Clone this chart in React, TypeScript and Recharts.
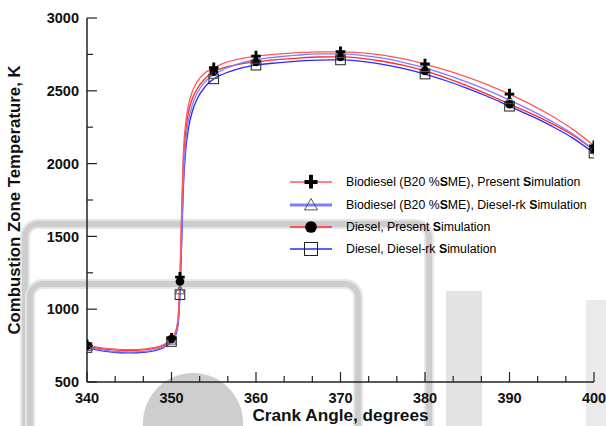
import React from 'react';
import { ComposedChart, Line, XAxis, YAxis, Legend } from 'recharts';

// ---------- data ----------
const angles = [340, 341, 342, 343, 344, 345, 346, 347, 348, 349, 350, 350.5, 350.8, 351, 351.2, 351.4, 351.7, 352, 352.5, 353, 354, 355, 356, 358, 360, 362.5, 365, 367.5, 370, 372.5, 375, 377.5, 380, 382.5, 385, 387.5, 390, 392.5, 395, 397.5, 400];

const b20Present = [755, 742, 733, 727, 723, 722, 723, 727, 737, 755, 800, 850, 960, 1220, 1680, 2060, 2290, 2400, 2500, 2560, 2625, 2658, 2685, 2718, 2738, 2752, 2762, 2768, 2768, 2761, 2745, 2719, 2684, 2642, 2594, 2539, 2477, 2407, 2327, 2235, 2122];
const b20DieselRk = [742, 728, 718, 711, 707, 706, 707, 711, 721, 740, 785, 830, 920, 1130, 1500, 1880, 2150, 2290, 2410, 2480, 2565, 2610, 2642, 2686, 2715, 2732, 2745, 2753, 2754, 2744, 2724, 2694, 2657, 2611, 2559, 2501, 2436, 2367, 2290, 2203, 2094];
const dieselPresent = [750, 737, 728, 722, 718, 717, 718, 722, 732, 750, 795, 840, 945, 1190, 1620, 2000, 2230, 2350, 2450, 2510, 2585, 2632, 2655, 2682, 2699, 2714, 2725, 2732, 2733, 2723, 2703, 2674, 2636, 2588, 2534, 2474, 2408, 2345, 2275, 2195, 2092];
const dieselDieselRk = [737, 722, 712, 705, 701, 700, 701, 705, 715, 734, 778, 822, 905, 1100, 1450, 1830, 2100, 2240, 2365, 2440, 2530, 2582, 2612, 2652, 2676, 2692, 2704, 2711, 2712, 2702, 2682, 2653, 2615, 2569, 2517, 2459, 2394, 2329, 2257, 2175, 2072];

const markerAngles = [340, 350, 351, 355, 360, 370, 380, 390, 400];

const xMajorTicks = [340, 350, 360, 370, 380, 390, 400];
const yTicks = [500, 750, 1000, 1250, 1500, 1750, 2000, 2250, 2500, 2750, 3000];

const seriesNames = [
  'Biodiesel (B20 %SME), Present Simulation',
  'Biodiesel (B20 %SME), Diesel-rk Simulation',
  'Diesel, Present Simulation',
  'Diesel, Diesel-rk Simulation',
];

// ---------- derived ----------
const data = angles.map((a, i) => ({
  angle: a,
  s1: b20Present[i],
  s2: b20DieselRk[i],
  s3: dieselPresent[i],
  s4: dieselDieselRk[i],
}));

const xTicks: number[] = [];
xMajorTicks.forEach((t, i) => {
  xTicks.push(t);
  if (i < xMajorTicks.length - 1) {
    xTicks.push(t + 10 / 3);
    xTicks.push(t + 20 / 3);
  }
});

const FONT = '"Liberation Sans", Arial, Helvetica, sans-serif';
const AXIS_COLOR = '#222';

type MarkerKind = 'plus' | 'triangle' | 'circle' | 'square';

const series: { key: string; name: string; color: string; width: number; legendWidth: number; marker: MarkerKind }[] = [
  { key: 's1', name: seriesNames[0], color: '#ff5a5a', width: 1.3, legendWidth: 1.3, marker: 'plus' },
  { key: 's2', name: seriesNames[1], color: '#7d7dff', width: 1.3, legendWidth: 3, marker: 'triangle' },
  { key: 's3', name: seriesNames[2], color: '#ff2a2a', width: 1.3, legendWidth: 1.5, marker: 'circle' },
  { key: 's4', name: seriesNames[3], color: '#2a2aff', width: 1.3, legendWidth: 1.3, marker: 'square' },
];

function Marker({ kind, cx, cy, s }: { kind: MarkerKind; cx: number; cy: number; s: number }) {
  if (kind === 'plus') {
    return (
      <path
        d={`M${cx - s},${cy}H${cx + s}M${cx},${cy - s * 1.1}V${cy + s}`}
        stroke="#000"
        strokeWidth={s * 0.6}
        fill="none"
      />
    );
  }
  if (kind === 'triangle') {
    return (
      <polygon
        points={`${cx},${cy - s} ${cx - s},${cy + s * 0.75} ${cx + s},${cy + s * 0.75}`}
        fill="none"
        stroke="#555"
        strokeWidth={1}
      />
    );
  }
  if (kind === 'circle') {
    return <circle cx={cx} cy={cy} r={s * 0.9} fill="#000" />;
  }
  return (
    <rect x={cx - s} y={cy - s} width={s * 2} height={s * 2} fill="none" stroke="#222" strokeWidth={1} />
  );
}

const makeDot = (kind: MarkerKind) => (props: any) => {
  const { cx, cy, payload, index } = props;
  if (!payload || !markerAngles.includes(payload.angle) || cx == null || cy == null) {
    return <g key={`e-${kind}-${index}`} />;
  }
  return (
    <g key={`m-${kind}-${index}`}>
      <Marker kind={kind} cx={cx} cy={cy} s={4.8} />
    </g>
  );
};

const Y_GAP = 8;
const X_GAP = 21;

function YTick(props: any) {
  const { x, y, payload } = props;
  const v = payload.value as number;
  const major = v % 500 === 0;
  const left = x + Y_GAP;
  return (
    <g>
      <line x1={left} x2={left + (major ? 10 : 6)} y1={y} y2={y} stroke={AXIS_COLOR} strokeWidth={1.2} />
      {major && (
        <text x={x} y={y} dy="0.355em" textAnchor="end" fontFamily={FONT} fontWeight="bold" fontSize={14.5} fill="#111">
          {v}
        </text>
      )}
    </g>
  );
}

function XTick(props: any) {
  const { x, y, payload } = props;
  const v = payload.value as number;
  const major = Math.abs(v / 10 - Math.round(v / 10)) < 1e-6;
  const bottom = y - X_GAP;
  return (
    <g>
      <line x1={x} x2={x} y1={bottom} y2={bottom - (major ? 10 : 6)} stroke={AXIS_COLOR} strokeWidth={1.2} />
      {major && (
        <text x={x} y={y} textAnchor="middle" fontFamily={FONT} fontWeight="bold" fontSize={14.5} fill="#111">
          {Math.round(v)}
        </text>
      )}
    </g>
  );
}

function LegendText({ text }: { text: string }) {
  // the reference draws every capital "S" in bold
  const parts = text.split(/(S)/);
  return (
    <span>
      {parts.map((p, i) => (p === 'S' ? <b key={i}>S</b> : <span key={i}>{p}</span>))}
    </span>
  );
}

function LegendContent() {
  return (
    <div style={{ fontFamily: FONT, fontSize: 12.3, color: '#000' }}>
      {series.map((s) => (
        <div key={s.key} style={{ display: 'flex', alignItems: 'center', height: 22.4 }}>
          <svg width={44} height={22} style={{ display: 'block' }}>
            <line x1={1} x2={43} y1={11} y2={11} stroke={s.color} strokeWidth={s.legendWidth} />
            <Marker kind={s.marker} cx={22} cy={11} s={6.5} />
          </svg>
          <div style={{ marginLeft: 13, whiteSpace: 'nowrap' }}>
            <LegendText text={s.name} />
          </div>
        </div>
      ))}
    </div>
  );
}

const band = (style: React.CSSProperties): React.CSSProperties => ({
  position: 'absolute',
  boxSizing: 'border-box',
  ...style,
});

function Watermark() {
  const c = '#cdcdcd';
  const soft = '0 0 1px 2px #e6e6e6, inset 0 0 1px 2px #e6e6e6';
  return (
    <div style={{ position: 'absolute', left: 0, top: 0, width: 606, height: 426, overflow: 'hidden' }}>
      <div style={band({ left: 22, top: 221, width: 410, height: 320, border: `6px solid ${c}`, borderRadius: 16, boxShadow: soft })} />
      <div style={band({ left: 27, top: 281, width: 334, height: 300, border: `6px solid ${c}`, borderRadius: 16, boxShadow: soft })} />
      <div style={band({ left: 143, top: 373, width: 100, height: 120, background: '#cecece', borderRadius: '50px 50px 0 0' })} />
      <div style={band({ left: 446, top: 291, width: 36, height: 140, background: '#e4e4e4' })} />
      <div style={band({ left: 586, top: 300, width: 20, height: 140, background: '#eaeaea' })} />
    </div>
  );
}

export default function App() {
  return (
    <div style={{ position: 'absolute', left: 0, top: 0, width: 606, height: 426, background: '#fff' }}>
      <Watermark />
      <div style={{ position: 'absolute', left: 0, top: 0 }}>
        <ComposedChart width={606} height={426} data={data} margin={{ top: 18, right: 12, bottom: 0, left: 0 }}>
          <XAxis
            dataKey="angle"
            type="number"
            domain={[340, 400]}
            ticks={xTicks}
            interval={0}
            allowDataOverflow
            height={44}
            tickSize={0}
            tickMargin={X_GAP}
            tickLine={false}
            tick={<XTick />}
            axisLine={{ stroke: AXIS_COLOR, strokeWidth: 1.5 }}
            label={{
              content: (p: any) => {
                const vb = p.viewBox;
                return (
                  <text x={vb.x + vb.width / 2} y={vb.y + 39} textAnchor="middle" fontFamily={FONT} fontWeight="bold" fontSize={17.2} fill="#111">
                    Crank Angle, degrees
                  </text>
                );
              },
            }}
          />
          <XAxis
            xAxisId="top"
            orientation="top"
            dataKey="angle"
            type="number"
            domain={[340, 400]}
            height={0}
            tick={false}
            tickLine={false}
            axisLine={{ stroke: AXIS_COLOR, strokeWidth: 1.5 }}
          />
          <YAxis
            type="number"
            domain={[500, 3000]}
            ticks={yTicks}
            interval={0}
            allowDataOverflow
            width={87}
            tickSize={0}
            tickMargin={Y_GAP}
            tickLine={false}
            tick={<YTick />}
            axisLine={{ stroke: AXIS_COLOR, strokeWidth: 1.5 }}
            label={{
              content: (p: any) => {
                const vb = p.viewBox;
                const cx = vb.x + 19.5;
                const cy = vb.y + vb.height / 2;
                return (
                  <text x={cx} y={cy} transform={`rotate(-90 ${cx} ${cy})`} textAnchor="middle" fontFamily={FONT} fontWeight="bold" fontSize={16.8} fill="#111">
                    Combustion Zone Temperature, K
                  </text>
                );
              },
            }}
          />
          <YAxis
            yAxisId="right"
            orientation="right"
            type="number"
            domain={[500, 3000]}
            width={0}
            tick={false}
            tickLine={false}
            axisLine={{ stroke: AXIS_COLOR, strokeWidth: 1.5 }}
          />
          <Legend
            layout="horizontal"
            verticalAlign="middle"
            align="center"
            content={<LegendContent />}
            wrapperStyle={{ position: 'absolute', left: 289, top: 171, width: 316, height: 92 }}
          />
          {[...series].reverse().map((s) => (
            <Line
              key={s.key}
              dataKey={s.key}
              name={s.name}
              type="monotone"
              stroke={s.color}
              strokeWidth={s.width}
              dot={makeDot(s.marker)}
              activeDot={false}
              isAnimationActive={false}
            />
          ))}
        </ComposedChart>
      </div>
    </div>
  );
}
